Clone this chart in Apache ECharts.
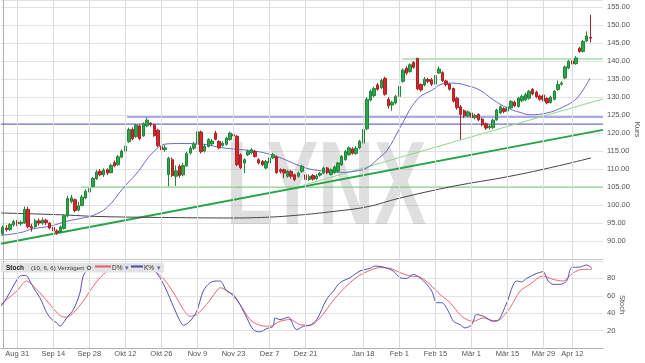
<!DOCTYPE html>
<html><head><meta charset="utf-8">
<script src="https://cdn.jsdelivr.net/npm/echarts@6/dist/echarts.min.js"></script>
<style>html,body{margin:0;padding:0;background:#fff}#c{width:645px;height:363px}</style>
</head><body><div id="c"></div>
<script>
// ---- trading calendar ----
const startDate = '2020-08-25';
const holidays = ['2020-12-24','2020-12-25','2020-12-31','2021-01-01','2021-04-02','2021-04-05'];
const dayCount = 164;
const padCount = 3;

// ---- x tick labels ----
const tickDates = ['2020-08-31','2020-09-14','2020-09-28','2020-10-12','2020-10-26','2020-11-09','2020-11-23','2020-12-07','2020-12-21','2021-01-18','2021-02-01','2021-02-15','2021-03-01','2021-03-15','2021-03-29','2021-04-12'];
const tickLabels = ['Aug 31','Sep 14','Sep 28','Okt 12','Okt 26','Nov 9','Nov 23','Dez 7','Dez 21','Jan 18','Feb 1','Feb 15','Mär 1','Mär 15','Mär 29','Apr 12'];

// ---- candles [open, close, low, high] ----
const candles = [
[92.0,93.8,91.6,94.3],[93.6,93.2,92.6,94.4],[93.2,94.6,92.8,95.0],[94.5,95.4,94.0,95.9],[95.3,94.8,94.2,95.8],
[94.8,95.2,94.3,95.7],[95.0,98.8,94.8,99.6],[98.8,94.0,93.5,99.5],[94.0,93.6,92.6,94.8],[94.0,95.6,93.6,96.2],
[95.6,95.0,94.3,96.3],[95.0,95.8,94.5,96.5],[95.8,95.1,94.4,96.2],[95.0,93.6,93.2,95.3],[93.8,92.8,92.4,94.4],
[92.8,92.4,91.7,93.3],[92.6,93.9,92.2,94.3],[93.5,97.0,93.2,97.3],[97.0,101.8,96.6,102.6],[101.0,102.0,100.5,102.8],
[101.5,98.5,98.0,101.8],[98.6,99.8,98.2,100.8],[99.9,102.2,99.6,102.8],[102.0,103.8,101.6,104.4],[103.6,104.6,103.0,105.2],
[105.2,107.4,104.9,107.8],[107.3,109.2,107.0,109.8],[109.4,108.4,108.0,110.0],[108.4,109.7,107.8,110.2],[109.8,108.9,108.3,110.2],
[109.0,111.0,108.8,111.5],[111.8,110.9,110.5,112.4],[111.2,113.4,110.9,113.9],[113.3,115.0,113.0,115.5],[115.0,116.4,114.6,116.9],
[117.6,121.0,117.3,121.5],[121.0,118.4,118.0,121.6],[119.0,122.2,118.7,122.6],[122.0,118.5,118.0,122.4],[119.2,122.6,119.0,123.0],
[122.0,123.6,121.6,124.3],[122.8,122.4,121.8,123.0],[122.3,119.3,119.0,122.6],[120.8,116.5,116.1,121.2],[116.3,115.4,114.6,117.5],
[115.4,115.9,114.8,116.8],[108.5,113.0,105.2,113.4],[112.6,108.2,107.8,113.2],[108.0,109.5,105.3,111.0],[110.8,108.2,107.6,111.3],
[108.4,111.0,108.0,111.7],[110.9,114.3,110.6,114.8],[114.5,115.8,114.0,116.4],[115.8,116.9,115.3,117.6],[116.9,120.4,116.5,120.9],
[120.3,114.8,114.3,120.7],[115.0,116.4,114.6,116.9],[116.3,118.2,116.0,118.6],[117.0,117.8,116.4,118.4],[120.0,118.3,118.0,120.6],
[117.7,115.9,115.5,118.0],[116.6,117.2,116.2,117.7],[116.9,118.6,116.5,119.0],[118.2,120.0,117.9,120.4],[119.6,119.2,118.8,120.3],
[119.1,111.2,110.8,119.5],[114.0,110.4,110.0,114.4],[111.7,112.6,108.9,113.0],[114.0,114.9,113.6,115.4],[114.5,115.4,114.1,115.8],
[114.9,113.5,113.2,115.3],[112.6,111.7,111.3,113.0],[112.1,111.2,110.8,112.5],[110.3,112.1,110.0,112.5],[111.7,113.1,111.4,113.5],
[113.1,114.0,112.8,114.5],[113.4,109.0,108.7,113.8],[109.8,109.4,108.8,110.2],[109.8,108.9,107.5,110.1],[108.0,109.4,107.6,109.8],
[109.4,108.0,107.4,109.7],[108.4,107.1,106.6,108.7],[108.0,108.9,107.6,109.3],[109.4,110.8,109.0,111.2],[108.4,107.1,106.6,108.8],
[107.1,108.0,106.7,108.5],[108.2,107.2,106.8,108.6],[107.4,108.1,107.0,108.6],[108.3,108.8,107.9,109.2],[108.9,110.3,108.6,110.7],
[110.3,109.0,108.6,110.6],[108.5,109.8,108.2,110.2],[109.0,110.6,108.7,111.0],[109.4,111.7,109.1,112.0],[111.2,113.5,110.9,113.9],
[112.6,114.9,112.3,115.3],[114.0,115.9,113.7,116.3],[115.6,114.4,114.0,116.1],[114.3,115.8,114.0,116.4],[115.9,117.7,115.5,118.1],
[117.2,121.0,116.9,121.5],[121.2,129.4,120.8,130.0],[129.2,131.6,128.8,132.2],[130.4,132.4,130.0,132.9],[133.4,132.2,131.8,133.9],
[132.6,134.6,132.3,135.1],[135.2,130.8,130.4,135.7],[129.4,127.6,126.8,130.0],[127.8,128.6,126.2,129.0],[128.4,130.2,128.0,130.6],
[130.2,133.0,129.8,133.4],[134.4,137.5,134.0,138.0],[138.0,136.7,136.2,138.6],[137.1,139.0,136.8,139.4],[139.6,138.3,137.9,140.0],
[140.8,132.3,131.9,140.9],[133.5,132.0,131.5,133.8],[133.4,135.0,133.0,135.6],[134.9,134.4,133.9,135.4],[134.8,133.6,133.1,135.3],
[133.6,136.0,133.3,136.4],[136.7,137.8,136.4,138.5],[136.8,134.6,134.2,137.2],[134.5,133.5,133.0,134.8],[133.6,132.2,131.8,133.9],
[132.4,128.9,128.5,132.6],[129.7,127.1,126.5,130.1],[127.3,125.2,118.2,127.8],[126.2,124.8,124.2,126.6],[124.8,125.9,124.4,126.3],
[125.6,124.3,123.9,126.0],[124.3,124.9,123.8,125.4],[125.2,123.7,123.3,125.5],[123.9,122.3,121.9,124.2],[122.6,121.4,120.9,122.9],
[121.5,121.9,121.0,122.4],[121.5,123.6,121.2,124.0],[123.7,126.4,123.4,126.8],[125.6,127.3,125.3,127.7],[126.8,126.0,125.5,127.2],
[126.1,127.3,125.7,127.7],[127.0,128.8,126.7,129.2],[128.6,127.6,127.2,129.0],[127.4,129.7,127.1,130.1],[129.0,130.2,128.6,130.7],
[129.2,130.7,128.9,131.2],[129.7,131.6,129.3,132.0],[132.1,130.9,130.5,132.5],[131.4,130.1,129.7,131.8],[130.3,129.4,129.0,130.7],
[130.6,128.9,128.6,130.9],[129.6,128.4,128.0,130.0],[128.5,130.0,128.2,130.4],[129.4,131.6,129.1,132.0],[132.1,133.5,131.8,134.6],
[133.6,133.9,133.2,134.4],[135.3,138.4,135.0,138.8],[138.1,140.0,137.8,140.4],[140.1,139.2,138.8,140.6],[139.3,140.9,139.0,141.4],
[143.6,142.7,142.3,144.0],[142.7,145.5,142.4,145.9],[145.6,147.0,145.3,148.3],[146.6,146.4,145.2,152.9]
];

// ---- moving averages [day index, value] ----
const maBlue = [[-0.5,91.6],[4.8,92.3],[8.4,93.4],[13,94.1],[17.8,95.5],[22.2,96.4],[25,97.1],[28.9,99.3],[33.3,104.6],[37.2,108.9],[41.7,114.7],[45.5,117.0],[49.1,117.1],[54.7,117.0],[61,115.9],[70.5,114.9],[76,113.5],[81.6,111.2],[85.2,110.0],[89.4,109.4],[93.5,109.1],[97.7,109.4],[101,110.3],[103.8,112.6],[106.6,115.2],[110.2,121.5],[114.9,129.3],[119.3,132.1],[122.1,133.7],[124.9,133.9],[128.8,133.2],[132.4,131.9],[136,129.3],[139.9,127.0],[143.5,125.75],[146.2,125.1],[151,125.6],[155.4,127.25],[159.3,129.75],[162.9,135.3]];
const ma200 = [[-0.5,97.8],[15.9,97.3],[27,96.8],[49,96.5],[63,96.4],[73,96.6],[82,97.2],[91.6,98.2],[101,99.5],[110,101.9],[124.9,105.2],[140.7,108.0],[153.7,110.8],[163.2,113.1]];

// ---- drawn lines [day index, value] ----
const trendThick = [[-0.5,89.25],[166.5,120.9]];
const trendThin = [[83,105.4],[166.5,129.5]];
const resGreen = [[110.8,140.6],[166.5,140.6]];
const supGreen = [[21.7,105.0],[166.5,105.0]];
const lineBlueA = [[34.5,124.5],[166.5,124.5]];
const lineBlueB = [[-0.5,122.5],[166.5,122.5]];

// ---- stochastic [day index, value] ----
const stochK = [[-0.5,48],[1.1,57.7],[2.9,71],[4.3,80.8],[5.2,83.5],[6.6,83],[7.5,77],[8.5,69.3],[10.3,57.7],[12.2,40.4],[13.6,32.7],[15,28.9],[15.9,24.9],[16.8,28.9],[17.7,34.6],[19.6,44.2],[21.4,63.5],[22.3,82.7],[23.7,90.4],[25.6,94.2],[27,95],[29.7,95],[32.5,95.4],[36.2,95],[39.9,94.2],[41.7,90.4],[43.6,80.8],[45.5,65.4],[47.3,48],[49.2,30.7],[50.1,26.1],[51.9,30.7],[53.8,42.3],[55.6,65.4],[57.5,75],[59.3,77],[60.3,77],[62.1,65.4],[63.9,61.5],[65.8,50],[67.7,34.6],[69.5,21.1],[71.3,18.5],[73.2,22.3],[75,25],[75.5,34.6],[76.9,32.7],[79.2,35.4],[81.5,21.1],[83.4,25],[85.2,26.1],[87.1,32.7],[89.8,55.8],[91.7,65.4],[93.5,75],[96.3,80.8],[99.1,88.5],[101.9,91.6],[103.2,94.2],[105.5,93.1],[108.3,88.5],[110.2,80.8],[112,80],[113.9,84.6],[115.7,80.8],[117.6,73.1],[119,65.4],[120.4,52],[121.8,52],[123.6,42.3],[125,30.7],[126.8,26.9],[128.2,23.1],[130.1,26.9],[131.4,38.5],[133.3,36.5],[136.1,30.7],[137.4,31.5],[139.8,52],[142.5,77],[143.9,76],[145.3,80],[148,85.5],[149.8,87.7],[151.3,77],[152.7,73.1],[154.5,73.1],[156.4,77],[157.8,92.4],[160.1,93.1],[162,95.4],[163.4,91.6]];
const stochD = [[-0.5,50],[1.1,55.8],[3.9,65.4],[6.6,77],[8.5,71.1],[10.3,63.5],[13.1,50],[15.9,37.3],[17.7,35.4],[19.6,40.4],[22.3,53.8],[25.1,71.1],[27.9,84.6],[30.7,92.4],[33.5,94.2],[36.2,95],[39.9,93.5],[42.7,86.6],[45.5,75],[48.2,57.7],[50.1,44.2],[51.9,36.5],[53.8,38.5],[56.5,50],[59.3,65.4],[60.3,69.3],[63,63.5],[65.8,50],[68.6,32.7],[71.3,26.1],[74.1,25],[76.9,30.7],[79.7,32.7],[82.4,26.9],[85.2,26.1],[88,34.6],[90.8,50],[93.5,63.5],[96.3,75],[99.1,83.8],[101.9,89.3],[104.6,92.4],[107.4,91.6],[110.2,86.6],[113,82.7],[115.7,81.5],[118.5,73.1],[121.3,61.5],[124.1,52],[126.8,38.5],[128.7,32.7],[130.5,30.7],[133.3,34.6],[136.1,31.5],[137.9,32.7],[140.7,46.2],[143.5,65.4],[146.2,73.1],[149.8,82.7],[152.7,78.8],[155.4,77],[158.3,86.6],[161,90.4],[163.4,90.4]];

// ---- build categories ----
function pad(n){return (n<10?'0':'')+n;}
const cats = [];
(function(){
  let d = new Date(startDate+'T00:00:00Z');
  while (cats.length < dayCount) {
    const s = d.getUTCFullYear()+'-'+pad(d.getUTCMonth()+1)+'-'+pad(d.getUTCDate());
    const wd = d.getUTCDay();
    if (wd!==0 && wd!==6 && holidays.indexOf(s)<0) cats.push(s);
    d = new Date(d.getTime()+86400000);
  }
  for (let i=0;i<padCount;i++) cats.push('pad'+i);
})();
const N = cats.length;
const labelMap = {};
tickDates.forEach((d,k)=>{labelMap[d]=tickLabels[k];});
const vIdx = tickDates.map(d=>cats.indexOf(d));

const FONT = 'Liberation Sans';
const gridLineColor = '#e2e2e2';
const vMark = {silent:true, symbol:['none','none'], label:{show:false}, animation:false,
  lineStyle:{color:'#dcdcdc', width:1, type:'solid'}, emphasis:{disabled:true},
  data: vIdx.map(i=>({xAxis:i}))};

function lineSeries(data, color, width, xi, yi, smooth, z){
  return {type:'line', data:data, xAxisIndex:xi, yAxisIndex:yi, symbol:'none', showSymbol:false,
    smooth:smooth||false, lineStyle:{color:color, width:width}, itemStyle:{color:color},
    z:z||3, silent:true, animation:false, clip:true};
}

const chart = echarts.init(document.getElementById('c'), null, {renderer:'canvas'});
chart.setOption({
  animation:false,
  backgroundColor:'#fff',
  textStyle:{fontFamily:FONT},
  grid:[
    {left:1, right:42, top:0, height:259, containLabel:false, outerBoundsMode:'none'},
    {left:1, right:42, top:261, height:87, containLabel:false, outerBoundsMode:'none'}
  ],
  xAxis:[
    {type:'category', gridIndex:0, data:cats, boundaryGap:true,
      axisLine:{show:true, lineStyle:{color:'#c8c8c8'}}, axisTick:{show:false}, axisLabel:{show:false}, splitLine:{show:false}},
    {type:'category', gridIndex:1, data:cats, boundaryGap:true,
      axisLine:{show:true, lineStyle:{color:'#b0b0b0'}}, axisTick:{show:false}, splitLine:{show:false},
      axisLabel:{interval:(idx,val)=>labelMap[val]!==undefined, formatter:(val)=>labelMap[val]||'',
        color:'#555', fontSize:7.5, margin:2, hideOverlap:false, fontFamily:FONT}},
    {type:'value', gridIndex:0, min:-0.5, max:N-0.5, show:false},
    {type:'value', gridIndex:1, min:-0.5, max:N-0.5, show:false}
  ],
  yAxis:[
    {type:'value', gridIndex:0, position:'right', min:85, max:157, interval:5,
      axisLine:{show:true, lineStyle:{color:'#b0b0b0'}}, axisTick:{show:false},
      axisLabel:{formatter:(v)=>(v>=90 && v<=155 && v%5===0)?v.toFixed(2):'', color:'#555', fontSize:7.5, margin:4, fontFamily:FONT},
      splitLine:{show:true, lineStyle:{color:gridLineColor}},
      name:'Kurs', nameLocation:'middle', nameGap:30, nameRotate:-90, nameMoveOverlap:false,
      nameTextStyle:{color:'#555', fontSize:7.5, fontFamily:FONT}},
    {type:'value', gridIndex:1, position:'right', min:0, max:100, interval:20,
      axisLine:{show:true, lineStyle:{color:'#b0b0b0'}}, axisTick:{show:false},
      axisLabel:{formatter:(v)=>(v>0 && v<100)?String(v):'', color:'#555', fontSize:7.5, margin:4, fontFamily:FONT},
      splitLine:{show:true, lineStyle:{color:gridLineColor}},
      name:'Stoch', nameLocation:'middle', nameGap:15, nameRotate:-90, nameMoveOverlap:false,
      nameTextStyle:{color:'#555', fontSize:7.5, fontFamily:FONT}}
  ],
  graphic:[
    {type:'text', x:326, y:191, z:1, scaleX:0.66, silent:true,
      style:{text:'LYNX', x:0, y:0, align:'center', verticalAlign:'middle', font:'bold 118px "Liberation Sans"', fill:'rgba(150,150,150,0.3)'}},
    {type:'rect', z:50, shape:{x:1, y:263, width:163, height:9.5}, style:{fill:'rgba(226,226,226,0.95)'}},
    {type:'text', z:51, x:6, y:268, style:{text:'Stoch', font:'bold 6.5px "Liberation Sans"', fill:'#222', verticalAlign:'middle'}},
    {type:'text', z:51, x:31, y:268, style:{text:'(10, 6, 6) Verzögert', font:'6.2px "Liberation Sans"', fill:'#333', verticalAlign:'middle'}},
    {type:'circle', z:51, shape:{cx:89, cy:267.8, r:1.8}, style:{fill:'none', stroke:'#555', lineWidth:1}},
    {type:'line', z:51, shape:{x1:95, y1:266.5, x2:111, y2:266.5}, style:{stroke:'#e8606a', lineWidth:2}},
    {type:'text', z:51, x:112, y:268, style:{text:'D%', font:'6.5px "Liberation Sans"', fill:'#333', verticalAlign:'middle'}},
    {type:'text', z:51, x:125, y:268, style:{text:'▾', font:'7px "DejaVu Sans"', fill:'#5a6cc0', verticalAlign:'middle'}},
    {type:'line', z:51, shape:{x1:131, y1:266.5, x2:143, y2:266.5}, style:{stroke:'#4a4aa8', lineWidth:2}},
    {type:'text', z:51, x:144, y:268, style:{text:'K%', font:'6.5px "Liberation Sans"', fill:'#333', verticalAlign:'middle'}},
    {type:'text', z:51, x:157, y:268, style:{text:'▾', font:'7px "DejaVu Sans"', fill:'#5a6cc0', verticalAlign:'middle'}}
  ],
  series:[
    {type:'line', xAxisIndex:2, yAxisIndex:0, data:[[0,100]], symbol:'none', showSymbol:false, lineStyle:{opacity:0}, z:1, silent:true, markLine:vMark},
    {type:'line', xAxisIndex:3, yAxisIndex:1, data:[[0,50]], symbol:'none', showSymbol:false, lineStyle:{opacity:0}, z:1, silent:true, markLine:vMark},
    lineSeries(lineBlueB, '#4b4ba6', 1, 2, 0, false, 2),
    lineSeries(lineBlueA, '#8e8ee0', 1.5, 2, 0, false, 2),
    lineSeries(supGreen, '#7ccb7c', 1, 2, 0, false, 2),
    lineSeries(resGreen, '#7ccb7c', 1, 2, 0, false, 2),
    lineSeries(trendThick, '#26a347', 2, 2, 0, false, 2),
    lineSeries(trendThin, '#8fd68f', 1, 2, 0, false, 2),
    lineSeries(ma200, '#444444', 1, 2, 0, 0.4, 3),
    lineSeries(maBlue, '#6a6acc', 1, 2, 0, 0.4, 3),
    {type:'candlestick', xAxisIndex:0, yAxisIndex:0, data:candles, barWidth:'80%', z:4, silent:true,
      itemStyle:{color:'#2aa84a', color0:'#d8262c', borderColor:'#23843c', borderColor0:'#a82226', borderWidth:1}},
    lineSeries(stochD, '#ea6470', 1, 3, 1, 0.3, 3),
    lineSeries(stochK, '#5050b0', 1, 3, 1, 0.3, 4)
  ]
});
</script></body></html>
